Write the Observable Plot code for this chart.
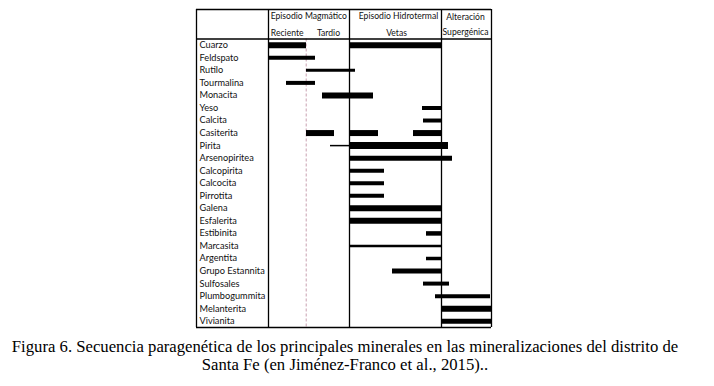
<!DOCTYPE html>
<html><head><meta charset="utf-8">
<script src="https://cdn.jsdelivr.net/npm/d3@7"></script>
<script src="https://cdn.jsdelivr.net/npm/@observablehq/plot@0.6"></script>
<style>
body{margin:0;background:#fff;width:714px;}
#caption{font-family:"Liberation Serif","Times New Roman",serif;font-size:16.7px;line-height:18px;text-align:center;color:#000;margin-top:6px;width:690px;white-space:nowrap;}
</style></head><body>
<div id="chart"></div>
<div id="caption">Figura 6. Secuencia paragenética de los principales minerales en las mineralizaciones del distrito de<br>Santa Fe (en Jiménez-Franco et al., 2015)..</div>
<script>
// Minerals (rows, top to bottom)
const minerals = ["Cuarzo","Feldspato","Rutilo","Tourmalina","Monacita","Yeso","Calcita","Casiterita","Pirita","Arsenopiritea","Calcopirita","Calcocita","Pirrotita","Galena","Esfalerita","Estibinita","Marcasita","Argentita","Grupo Estannita","Sulfosales","Plumbogummita","Melanterita","Vivianita"];

// Bars: mineral, start, end (relative time units), line weight
const barMineral = ["Cuarzo","Cuarzo","Feldspato","Rutilo","Tourmalina","Monacita","Yeso","Calcita","Casiterita","Casiterita","Casiterita","Pirita","Pirita","Arsenopiritea","Calcopirita","Calcocita","Pirrotita","Galena","Esfalerita","Estibinita","Marcasita","Argentita","Grupo Estannita","Sulfosales","Plumbogummita","Melanterita","Vivianita"];
const barStart  = [1, 82, 1, 38, 18, 54, 154, 155, 38, 82, 145, 62, 82, 82, 82, 82, 82, 82, 82, 158, 82, 158, 124, 155, 167, 173, 173];
const barEnd    = [38, 173, 47, 87, 47, 105, 173, 173, 66, 110, 173, 81, 180, 184, 116, 116, 116, 173, 173, 173, 173, 173, 173, 181, 222, 223, 223];
const barWeight = [6, 6, 4, 3, 4, 6, 4, 4, 6, 6, 6, 1.5, 7, 5, 4, 4, 4, 6, 6, 4.5, 2.5, 3.5, 5, 4, 4, 6, 5];

// Table structure: column boundaries (label column, magmatic, hydrothermal, supergene)
const columnBounds = [-72, 0, 81, 173, 223];
const subdivision = 37.7; // Reciente / Tardio
const headerTop = -2.35;

// Header labels
const headerText = ["Episodio Magmático","Reciente","Tardio","Episodio Hidrotermal","Vetas","Alteración","Supergénica"];
const headerX    = [40.3, 18.7, 60, 130, 128, 197, 197];
const headerY    = [-1.82, -0.46, -0.46, -1.82, -0.46, -1.71, -0.52];

const bars = barMineral.map((m, i) => ({row: minerals.indexOf(m) + 0.5, x1: barStart[i], x2: barEnd[i], w: barWeight[i]}));
const rows = minerals.map((m, i) => ({name: m, row: i + 0.5}));
const header = headerText.map((t, i) => ({t, x: headerX[i], y: headerY[i]}));

const font = "Lato, 'Noto Sans', sans-serif";

const chart = Plot.plot({
  width: 714,
  height: 332,
  marginLeft: 196,
  marginRight: 223,
  marginTop: 0,
  marginBottom: 0,
  x: {domain: [-72, 223], range: [196, 491], axis: null},
  y: {domain: [headerTop, 23], range: [9, 327], axis: null},
  style: {fontFamily: font, fontSize: "9px", color: "#111", background: "#fff"},
  marks: [
    Plot.ruleX([subdivision], {y1: 0, y2: 23, stroke: "#c8a0b0", strokeWidth: 1, strokeDasharray: "3,2"}),
    Plot.ruleY(bars, {y: "row", x1: "x1", x2: "x2", stroke: "#000", strokeWidth: "w"}),
    Plot.ruleY([headerTop, 0, 23], {x1: -72, x2: 223, stroke: "#000", strokeWidth: 1.3}),
    Plot.ruleX(columnBounds, {y1: headerTop, y2: 23, stroke: "#000", strokeWidth: 1.3}),
    Plot.text(rows, {x: -72, y: "row", text: "name", textAnchor: "start", dx: 3, fill: "#111", fontSize: 9.2}),
    Plot.text(header, {x: "x", y: "y", text: "t", fill: "#111", fontSize: 8.6})
  ]
});
document.getElementById("chart").appendChild(chart);
</script>
</body></html>
